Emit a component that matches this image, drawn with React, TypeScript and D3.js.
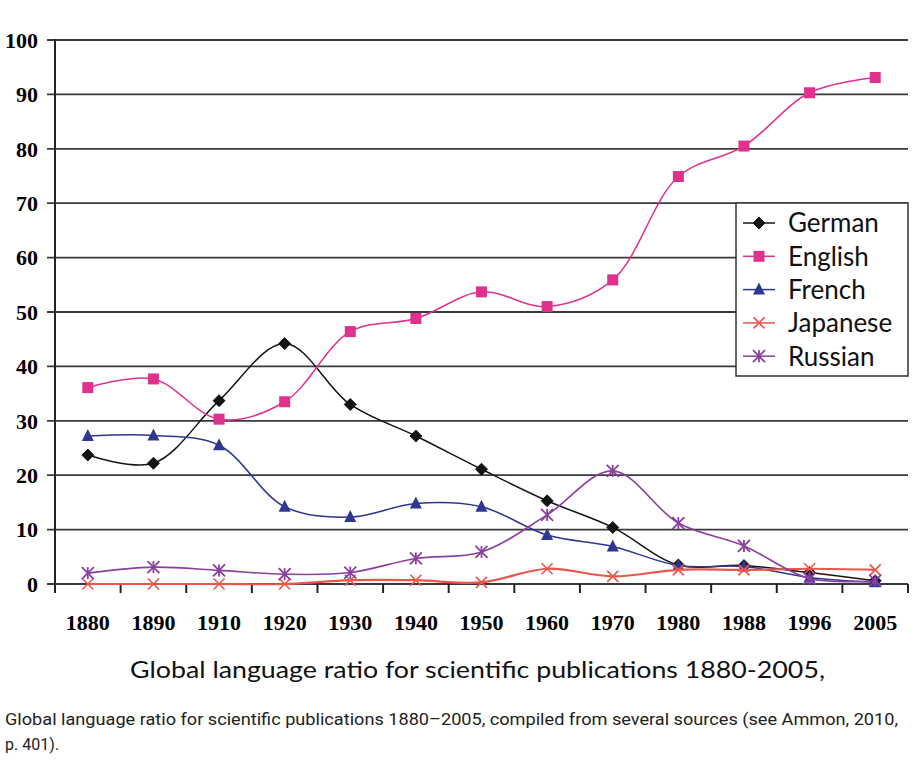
import React from 'react';
import * as d3 from 'd3';

// values (% of publications)
const years = ['1880', '1890', '1910', '1920', '1930', '1940', '1950', '1960', '1970', '1980', '1988', '1996', '2005'];
const german = [23.7, 22.2, 33.7, 44.2, 33.0, 27.2, 21.1, 15.3, 10.4, 3.5, 3.4, 2.1, 0.6];
const english = [36.1, 37.7, 30.3, 33.5, 46.4, 48.8, 53.7, 51.0, 55.9, 74.9, 80.5, 90.3, 93.1];
const french = [27.2, 27.3, 25.5, 14.2, 12.3, 14.8, 14.2, 9.0, 6.9, 3.4, 3.2, 1.2, 0.3];
const japanese = [0, 0, 0, 0, 0.7, 0.7, 0.3, 2.8, 1.4, 2.6, 2.6, 2.8, 2.6];
const russian = [2.0, 3.1, 2.5, 1.8, 2.1, 4.7, 5.9, 12.7, 20.8, 11.2, 7.0, 1.0, 0.6];
const yTicks = [0, 10, 20, 30, 40, 50, 60, 70, 80, 90, 100];

const series = [
  { name: 'German', values: german, color: '#141414', marker: 'diamond', width: 1.5 },
  { name: 'English', values: english, color: '#e0318c', marker: 'square', width: 1.5 },
  { name: 'French', values: french, color: '#2f3790', marker: 'triangle', width: 1.5 },
  { name: 'Japanese', values: japanese, color: '#ec5549', marker: 'cross', width: 2.2 },
  { name: 'Russian', values: russian, color: '#8b3f9e', marker: 'star', width: 1.6 },
];

const W = 914;
const H = 762;
const left = 55;
const right = 908;
const top = 40;
const bottom = 584;

const x = d3.scaleBand<string>().domain(years).range([left, right]);
const y = d3.scaleLinear().domain([0, 100]).range([bottom, top]);

const Marker = ({ type, cx, cy, color }: { type: string; cx: number; cy: number; color: string }) => {
  if (type === 'diamond') {
    const r = 6;
    return <path d={`M${cx},${cy - r}L${cx + r},${cy}L${cx},${cy + r}L${cx - r},${cy}Z`} fill={color} stroke="#000" strokeWidth={0.8} />;
  }
  if (type === 'square') {
    const s = 11;
    return <rect x={cx - s / 2} y={cy - s / 2} width={s} height={s} fill={color} />;
  }
  if (type === 'triangle') {
    const r = 6;
    return <path d={`M${cx},${cy - r - 1}L${cx + r},${cy + r - 1}L${cx - r},${cy + r - 1}Z`} fill={color} />;
  }
  if (type === 'cross') {
    const r = 5.5;
    return (
      <g stroke={color} strokeWidth={1.6}>
        <line x1={cx - r} y1={cy - r} x2={cx + r} y2={cy + r} />
        <line x1={cx - r} y1={cy + r} x2={cx + r} y2={cy - r} />
      </g>
    );
  }
  const r = 6;
  return (
    <g stroke={color} strokeWidth={1.8}>
      <line x1={cx - r} y1={cy - r} x2={cx + r} y2={cy + r} />
      <line x1={cx - r} y1={cy + r} x2={cx + r} y2={cy - r} />
      <line x1={cx} y1={cy - r} x2={cx} y2={cy + r} />
    </g>
  );
};

export default function App() {
  const cx = (i: number) => (x(years[i]) as number) + x.bandwidth() / 2;
  const line = d3
    .line<number>()
    .x((_, i) => cx(i))
    .y((d) => y(d))
    .curve(d3.curveCatmullRom.alpha(0.5));

  const boundaries = years.map((yr) => x(yr) as number).concat([right]);

  const legX = 736;
  const legY = 203;

  return (
    <svg width={W} height={H} style={{ position: 'absolute', left: 0, top: 0, background: '#fff' }}>
      {/* gridlines */}
      {yTicks.map((t) => (
        <g key={t}>
          <line x1={left - 8} x2={right} y1={y(t)} y2={y(t)} stroke="#3a3a3a" strokeWidth={t === 0 ? 2 : 1.8} />
          <text
            x={38}
            y={y(t)}
            dy="0.35em"
            textAnchor="end"
            fontFamily="'Liberation Serif', serif"
            fontWeight="bold"
            fontSize={22}
            fill="#000"
          >
            {t}
          </text>
        </g>
      ))}
      <line x1={left} x2={left} y1={top - 1} y2={bottom} stroke="#222" strokeWidth={2} />
      {boundaries.map((b, i) => (
        <line key={i} x1={b} x2={b} y1={bottom} y2={bottom + 9} stroke="#222" strokeWidth={2} />
      ))}
      {years.map((yr, i) => (
        <text
          key={yr}
          x={cx(i)}
          y={630}
          textAnchor="middle"
          fontFamily="'Liberation Serif', serif"
          fontWeight="bold"
          fontSize={22}
          fill="#000"
        >
          {yr}
        </text>
      ))}

      {/* series */}
      {series.map((s) => (
        <g key={s.name}>
          <path d={line(s.values) || ''} fill="none" stroke={s.color} strokeWidth={s.width} />
          {s.values.map((v, i) => (
            <Marker key={i} type={s.marker} cx={cx(i)} cy={y(v)} color={s.color} />
          ))}
        </g>
      ))}

      {/* legend */}
      <rect x={legX} y={legY} width={right - legX} height={173} fill="#fff" stroke="#333" strokeWidth={1.5} />
      {series.map((s, i) => {
        const ly = 223 + i * 33.3;
        return (
          <g key={s.name}>
            <line x1={743} x2={775} y1={ly} y2={ly} stroke={s.color} strokeWidth={1.5} />
            <Marker type={s.marker} cx={759} cy={ly} color={s.color} />
            <text x={788} y={ly} dy="0.36em" fontFamily="Lato, sans-serif" fontSize={26} fill="#111">
              {s.name}
            </text>
          </g>
        );
      })}

      {/* titles */}
      <text x={130} y={678} fontFamily="Lato, sans-serif" fontSize={23} fill="#111" textLength={695} lengthAdjust="spacingAndGlyphs">
        Global language ratio for scientific publications 1880-2005,
      </text>
      <text x={5} y={725} fontFamily="Roboto, sans-serif" fontSize={16} fill="#222" textLength={893} lengthAdjust="spacingAndGlyphs">
        Global language ratio for scientific publications 1880–2005, compiled from several sources (see Ammon, 2010,
      </text>
      <text x={5} y={750} fontFamily="Roboto, sans-serif" fontSize={16} fill="#222">
        p. 401).
      </text>
    </svg>
  );
}
